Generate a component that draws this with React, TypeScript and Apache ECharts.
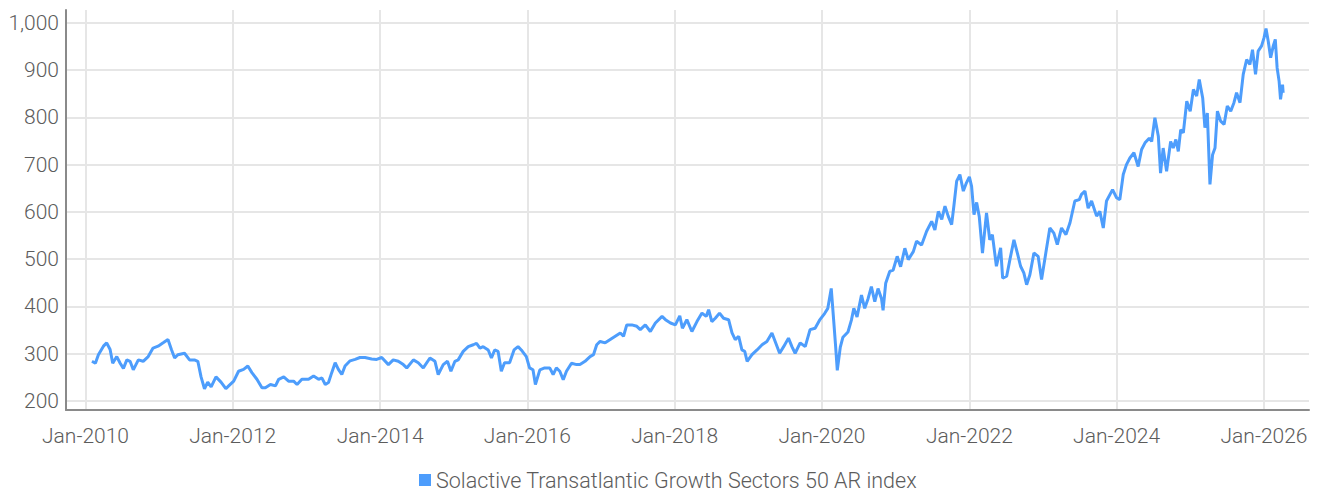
import React, { useEffect, useRef } from "react";
import * as echarts from "echarts";

const seriesName = "Solactive Transatlantic Growth Sectors 50 AR index";

const dates: string[] = [
  "2010-02-02","2010-02-19","2010-03-06","2010-03-31","2010-04-16","2010-05-03","2010-05-16","2010-06-05","2010-06-22","2010-07-08",
  "2010-07-25","2010-08-10","2010-08-26","2010-09-20","2010-10-14","2010-11-08","2010-12-02","2010-12-27","2011-01-21","2011-02-14",
  "2011-03-03","2011-03-19","2011-04-04","2011-05-07","2011-06-01","2011-06-25","2011-07-12","2011-07-28","2011-08-14","2011-08-30",
  "2011-09-16","2011-10-10","2011-11-04","2011-11-28","2011-12-12","2012-01-06","2012-01-30","2012-02-24","2012-03-16","2012-04-05",
  "2012-04-30","2012-05-25","2012-06-11","2012-07-06","2012-07-31","2012-08-16","2012-09-10","2012-10-04","2012-10-29","2012-11-15",
  "2012-12-09","2013-01-11","2013-02-05","2013-03-02","2013-03-18","2013-04-04","2013-04-20","2013-05-06","2013-05-23","2013-06-08",
  "2013-06-25","2013-07-11","2013-08-05","2013-08-30","2013-09-23","2013-10-18","2013-11-20","2013-12-15","2014-01-09","2014-02-11",
  "2014-03-07","2014-04-01","2014-04-26","2014-05-13","2014-06-15","2014-07-09","2014-08-03","2014-09-05","2014-09-30","2014-10-16",
  "2014-11-10","2014-12-01","2014-12-18","2015-01-07","2015-01-23","2015-02-17","2015-03-14","2015-04-08","2015-04-24","2015-05-11",
  "2015-05-27","2015-06-21","2015-07-07","2015-07-23","2015-08-09","2015-08-25","2015-09-10","2015-10-05","2015-10-27","2015-11-16",
  "2015-12-02","2015-12-27","2016-01-12","2016-01-29","2016-02-10","2016-03-03","2016-03-27","2016-04-21","2016-05-08","2016-05-24",
  "2016-06-10","2016-06-27","2016-07-13","2016-08-07","2016-09-01","2016-09-18","2016-10-13","2016-11-07","2016-11-24","2016-12-10",
  "2016-12-27","2017-01-21","2017-02-15","2017-03-12","2017-04-06","2017-04-22","2017-05-08","2017-06-02","2017-06-27","2017-07-14",
  "2017-08-08","2017-09-02","2017-09-27","2017-10-30","2017-11-16","2017-12-11","2018-01-04","2018-01-26","2018-02-08","2018-03-02",
  "2018-03-27","2018-04-21","2018-05-16","2018-06-06","2018-06-18","2018-07-04","2018-07-21","2018-08-11","2018-08-31","2018-09-25",
  "2018-10-12","2018-10-28","2018-11-14","2018-11-30","2018-12-14","2018-12-26","2019-01-19","2019-02-13","2019-03-10","2019-04-03",
  "2019-04-28","2019-05-14","2019-06-05","2019-06-25","2019-07-19","2019-08-05","2019-08-21","2019-09-15","2019-10-10","2019-11-03",
  "2019-11-28","2019-12-20","2020-01-14","2020-01-30","2020-02-16","2020-02-28","2020-03-09","2020-03-17","2020-04-01","2020-04-14",
  "2020-05-09","2020-05-26","2020-06-07","2020-06-23","2020-07-15","2020-07-31","2020-08-17","2020-09-02","2020-09-19","2020-10-05",
  "2020-10-22","2020-10-30","2020-11-12","2020-12-02","2020-12-19","2021-01-08","2021-01-25","2021-02-15","2021-03-04","2021-03-29",
  "2021-04-14","2021-05-09","2021-06-03","2021-06-28","2021-07-14","2021-07-31","2021-08-17","2021-09-02","2021-09-18","2021-10-05",
  "2021-10-16","2021-10-30","2021-11-15","2021-12-02","2021-12-18","2022-01-01","2022-01-12","2022-01-24","2022-02-06","2022-02-19",
  "2022-03-07","2022-03-27","2022-04-12","2022-04-25","2022-05-15","2022-06-05","2022-06-15","2022-07-05","2022-07-21","2022-08-10",
  "2022-08-27","2022-09-12","2022-09-28","2022-10-12","2022-10-28","2022-11-17","2022-12-08","2022-12-25","2023-01-15","2023-02-04",
  "2023-02-24","2023-03-13","2023-04-03","2023-04-25","2023-05-15","2023-06-08","2023-06-30","2023-07-11","2023-07-28","2023-08-13",
  "2023-08-30","2023-09-24","2023-10-10","2023-10-27","2023-11-12","2023-12-12","2024-01-01","2024-01-17","2024-02-03","2024-02-19",
  "2024-03-07","2024-03-27","2024-04-17","2024-05-04","2024-05-21","2024-06-11","2024-06-23","2024-07-09","2024-07-26","2024-08-06",
  "2024-08-19","2024-09-05","2024-09-25","2024-10-08","2024-10-21","2024-11-02","2024-11-14","2024-11-27","2024-12-14","2024-12-31",
  "2025-01-16","2025-02-01","2025-02-14","2025-03-03","2025-03-14","2025-03-26","2025-04-08","2025-04-21","2025-05-03","2025-05-15",
  "2025-05-31","2025-06-17","2025-07-03","2025-07-20","2025-08-05","2025-08-18","2025-09-04","2025-09-20","2025-10-07","2025-10-23",
  "2025-11-05","2025-11-20","2025-12-03","2025-12-20","2026-01-01","2026-01-11","2026-01-22","2026-02-03","2026-02-16","2026-02-26",
  "2026-03-07","2026-03-17","2026-03-24","2026-04-03","2026-04-06"
];

const values: number[] = [
  284,280,298,316,323,309,280,294,280,269,
  287,284,266,287,284,294,312,316,323,330,
  309,291,298,301,287,287,284,251,226,240,
  230,251,240,226,232,242,263,267,274,260,
  246,228,228,235,232,246,251,242,242,235,
  246,246,253,246,249,235,239,260,281,267,
  256,274,285,288,292,292,289,288,292,277,
  287,284,277,270,287,281,270,291,284,256,
  277,284,263,284,287,305,315,319,322,312,
  315,308,291,308,305,263,281,281,308,315,
  308,294,270,266,235,266,270,270,256,270,
  263,245,263,280,277,277,284,294,298,319,
  326,323,330,337,344,337,361,361,358,351,
  361,347,365,379,372,365,361,380,354,372,
  347,368,386,379,393,368,375,386,375,372,
  344,330,337,308,305,284,298,308,319,326,
  344,326,301,315,333,315,301,323,315,351,
  354,371,385,396,438,371,314,265,314,335,
  346,371,396,378,424,396,417,442,410,438,
  417,392,449,474,477,506,484,523,499,516,
  538,530,559,580,562,601,584,612,591,573,
  612,665,679,644,662,674,654,594,620,590,
  513,598,541,552,485,524,460,464,499,541,
  513,485,471,446,467,513,506,457,513,566,
  555,531,566,552,577,623,626,637,644,608,
  623,591,601,566,623,647,630,626,679,700,
  714,725,696,732,746,756,749,799,760,682,
  735,686,749,735,753,728,774,767,834,813,
  859,845,880,841,778,809,658,721,735,813,
  792,785,824,813,831,852,831,891,922,912,
  943,891,940,951,968,988,961,926,951,965,
  905,876,838,869,852
];

const xTickYears: number[] = [2010, 2012, 2014, 2016, 2018, 2020, 2022, 2024, 2026];
const yTickValues: number[] = [200, 300, 400, 500, 600, 700, 800, 900, 1000];

const MONTHS = ["Jan","Feb","Mar","Apr","May","Jun","Jul","Aug","Sep","Oct","Nov","Dec"];

function toUTC(s: string): number {
  const [y, m, d] = s.split("-").map(Number);
  return Date.UTC(y, m - 1, d);
}

export default function App() {
  const ref = useRef<HTMLDivElement>(null);

  useEffect(() => {
    if (!ref.current) return;
    const chart = echarts.init(ref.current, undefined, { renderer: "svg" });

    const T0 = Date.UTC(2010, 0, 1);
    const T1 = Date.UTC(2026, 0, 1);
    const pxPerMs = (1264 - 85.5) / (T1 - T0);
    const xMin = T0 - (85.5 - 66) / pxPerMs;
    const xMax = T1 + (1309 - 1264) / pxPerMs;

    const data = dates.map((d, i) => [toUTC(d), values[i]]);
    const xTicks = xTickYears.map((y) => Date.UTC(y, 0, 1));

    const font = "Roboto, 'Noto Sans', sans-serif";
    const textColor = "#5c5c5c";

    chart.setOption({
      animation: false,
      backgroundColor: "#ffffff",
      grid: { left: 66, right: 10, top: 10, bottom: 83, outerBoundsMode: "none", containLabel: false },
      legend: {
        show: true,
        left: 414,
        top: 466,
        padding: [2, 5, 2, 5],
        icon: "rect",
        itemWidth: 12,
        itemHeight: 12,
        itemGap: 4,
        textStyle: { color: textColor, fontSize: 21.5, fontFamily: font, fontWeight: 300, lineHeight: 24 },
        data: [seriesName],
      },
      xAxis: {
        type: "value",
        min: xMin,
        max: xMax,
        axisLine: { show: true, lineStyle: { color: "#8a8a8a", width: 2 } },
        axisTick: { show: false, customValues: xTicks },
        axisLabel: {
          customValues: xTicks,
          color: textColor,
          fontSize: 21,
          fontFamily: font,
          fontWeight: 300,
          margin: 15,
          formatter: (v: number) => {
            const dt = new Date(v);
            return MONTHS[dt.getUTCMonth()] + "-" + dt.getUTCFullYear();
          },
        },
        splitLine: { show: true, lineStyle: { color: "#e6e6e6", width: 2 } },
      },
      yAxis: {
        type: "value",
        min: 181,
        max: 1027,
        axisLine: { show: true, lineStyle: { color: "#8a8a8a", width: 2 } },
        axisTick: { show: false, customValues: yTickValues },
        axisLabel: {
          customValues: yTickValues,
          color: textColor,
          fontSize: 21,
          fontFamily: font,
          fontWeight: 300,
          margin: 7,
          formatter: (v: number) => v.toLocaleString("en-US"),
        },
        splitLine: { show: true, lineStyle: { color: "#e6e6e6", width: 2 } },
      },
      series: [
        {
          name: seriesName,
          type: "line",
          data,
          showSymbol: false,
          symbol: "none",
          lineStyle: { color: "#4d9dfc", width: 3 },
          itemStyle: { color: "#4d9dfc" },
        },
      ],
    });

    return () => chart.dispose();
  }, []);

  return (
    <div
      ref={ref}
      style={{ position: "absolute", left: 0, top: 0, width: 1319, height: 493 }}
    />
  );
}
